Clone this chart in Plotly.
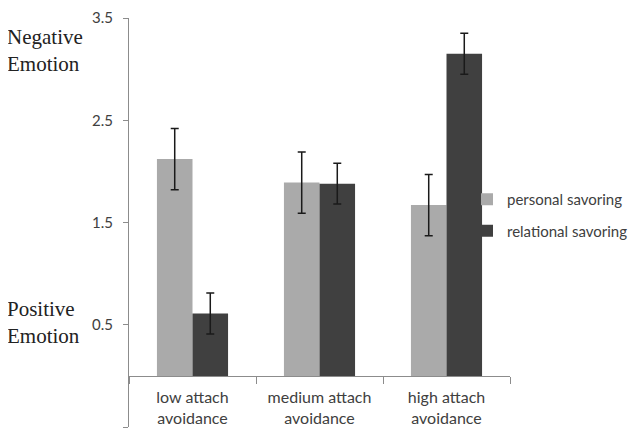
import plotly.graph_objects as go

categories = ["low attach<br>avoidance", "medium attach<br>avoidance", "high attach<br>avoidance"]
personal = [2.12, 1.89, 1.67]
personal_err = [0.30, 0.30, 0.30]
relational = [0.61, 1.88, 3.15]
relational_err = [0.20, 0.20, 0.20]
ytick_vals = [-0.5, 0.5, 1.5, 2.5, 3.5]
ytick_text = ["-0.5", "0.5", "1.5", "2.5", "3.5"]

fig = go.Figure()
fig.add_trace(go.Bar(
    x=categories, y=personal, name="personal savoring",
    marker=dict(color="#aaaaaa", line=dict(width=0)),
    error_y=dict(type="data", array=personal_err, color="#1a1a1a", thickness=1.5, width=4),
    legendgroup="a",
))
fig.add_trace(go.Bar(
    x=categories, y=relational, name="relational savoring",
    marker=dict(color="#404040", line=dict(width=0)),
    error_y=dict(type="data", array=relational_err, color="#1a1a1a", thickness=1.5, width=4),
    legendgroup="b",
))

# page has an 8px body margin; figure coordinates = page coordinates - 8
OFF = 8
W, H = 636 - OFF, 433 - OFF
L, T = 129 - OFF, 18 - OFF
R = W - (510 - OFF)
B = H - (427 - OFF)
pw = W - L - R
ph = H - T - B

def px(xp):
    return (xp - 129) / pw

def py(yp):
    return (427 - yp) / ph

fig.update_layout(
    width=W, height=H,
    margin=dict(l=L, r=R, t=T, b=B, autoexpand=False),
    paper_bgcolor="white", plot_bgcolor="white",
    barmode="group", bargap=0.44, bargroupgap=0,
    font=dict(family="Lato, sans-serif", size=14, color="#404040"),
    showlegend=True,
    legend=dict(
        x=px(467), xanchor="left",
        y=py(215), yanchor="middle",
        bgcolor="rgba(0,0,0,0)", borderwidth=0,
        font=dict(family="Lato, sans-serif", size=15, color="#404040"),
        tracegroupgap=9, traceorder="grouped",
    ),
    xaxis=dict(
        anchor="free", position=0.125, automargin=False,
        showline=True, linecolor="#8c8c8c", linewidth=1,
        ticks="outside", tickson="boundaries", ticklen=7, tickcolor="#8c8c8c",
        tickfont=dict(family="Lato, sans-serif", size=16, color="#404040"),
        ticklabelstandoff=7,
        showgrid=False, zeroline=False,
    ),
    yaxis=dict(
        range=[-0.5, 3.5], domain=[0, 1], automargin=False,
        tickvals=ytick_vals, ticktext=ytick_text,
        showline=True, linecolor="#8c8c8c", linewidth=1,
        ticks="outside", ticklen=5, tickcolor="#8c8c8c",
        tickfont=dict(family="Lato, sans-serif", size=15, color="#404040"),
        ticklabelstandoff=7,
        showgrid=False, zeroline=False,
    ),
)

fig.add_annotation(
    text="Negative<br>Emotion", xref="paper", yref="paper",
    x=px(5), xanchor="left", y=py(50), yanchor="middle",
    showarrow=False, align="left",
    font=dict(family="Liberation Serif, serif", size=21, color="#222222"),
)
fig.add_annotation(
    text="Positive<br>Emotion", xref="paper", yref="paper",
    x=px(5), xanchor="left", y=py(322), yanchor="middle",
    showarrow=False, align="left",
    font=dict(family="Liberation Serif, serif", size=21, color="#222222"),
)

fig.write_html("out.html")
